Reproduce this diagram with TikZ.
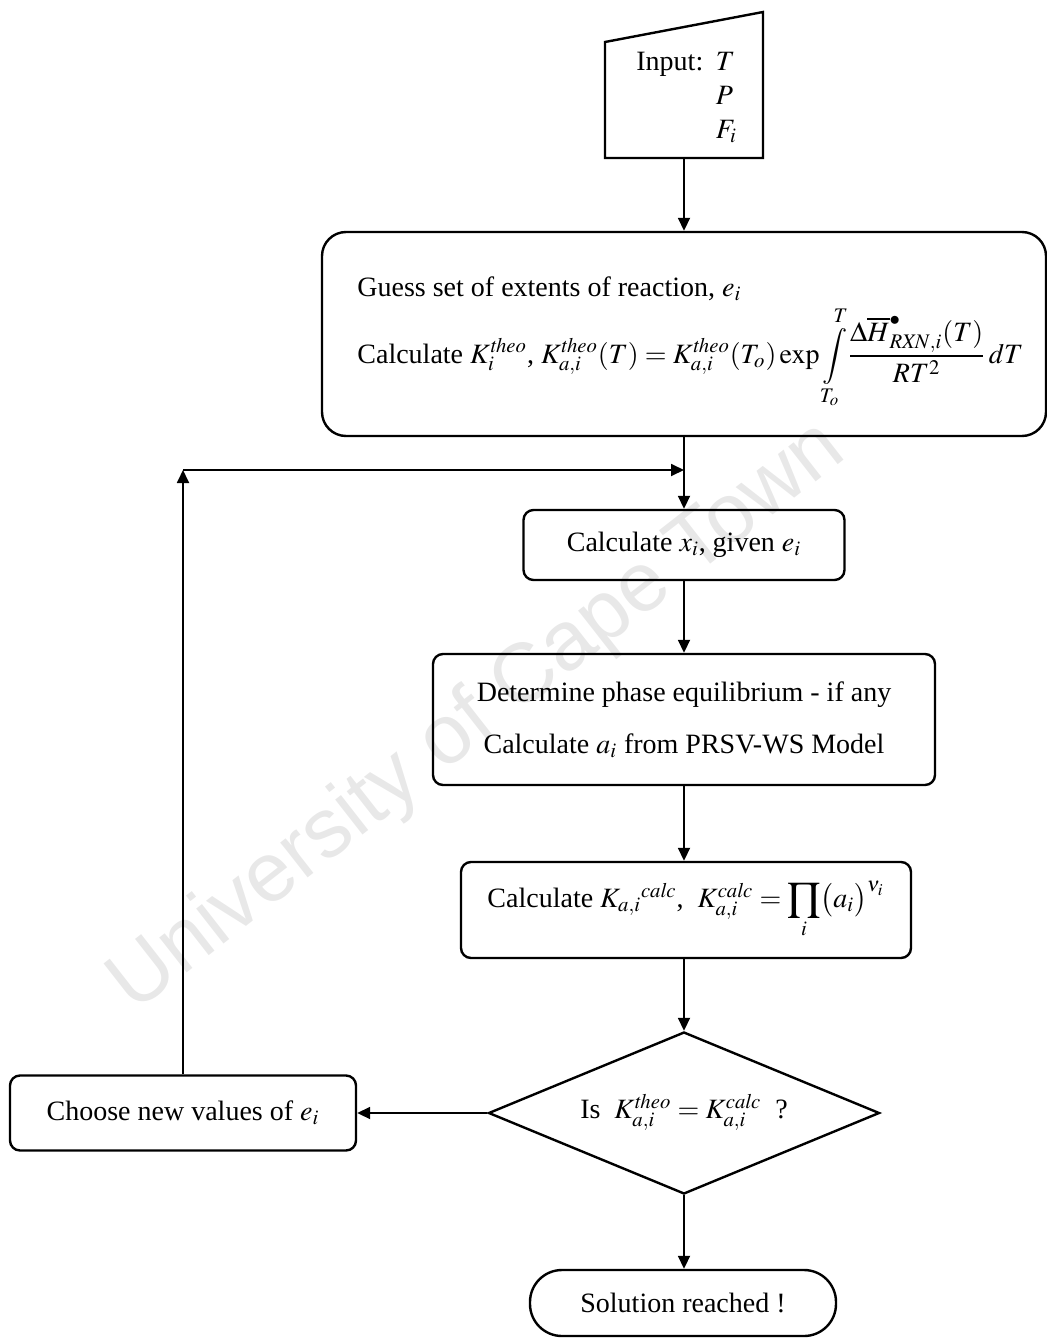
\documentclass[tikz,border=0pt]{standalone}
\usepackage{amsmath}
\usepackage{mathptmx}
\usepackage{fontspec}
\setmainfont{Liberation Serif}
\newfontfamily\wmfont{Liberation Sans}
\usetikzlibrary{arrows.meta,shapes.geometric}
\tikzset{
  txt/.style={font=\fontsize{14}{17}\selectfont, inner sep=0pt},
  procbox/.style={draw, line width=1.2pt, rounded corners=5pt, txt, align=center},
  arr/.style={line width=0.9pt, -{Triangle[length=6.5pt,width=6pt]}},
}
\begin{document}
\begin{tikzpicture}[x=0.5pt,y=-0.5pt]
\useasboundingbox (0,0) rectangle (1047,1338);
% watermark
\node[rotate=38, text=black!9, font=\wmfont\fontsize{42}{42}\selectfont, inner sep=0pt] (wm) at (478,718) {University of Cape Town};

% input (manual input shape)
\draw[line width=1.2pt] (605,42) -- (763,12) -- (763,158) -- (605,158) -- cycle;
\node[minimum width=79pt, minimum height=58pt, inner sep=0pt] (input) at (684,100) {};
\node[txt, anchor=north west] (inputtxt) at (636,46) {\renewcommand{\arraystretch}{1.0}\begin{tabular}{@{}l@{\hspace{0.45em}}l@{}}Input: & $T$\\ & $P$\\ & $F_i$\end{tabular}};

% big box
\node[draw, line width=1.2pt, rounded corners=12pt, minimum width=362pt, minimum height=102pt] (big) at (684,334) {};
\node[txt, anchor=base west] (guess) at (357,296) {Guess set of extents of reaction, $e_i$};
\node[txt, anchor=base west] (ktheo) at (357,363) {Calculate $K_i^{\mathit{theo}}$, $K_{a,i}^{\mathit{theo}}(T)=K_{a,i}^{\mathit{theo}}(T_o)\exp\displaystyle\int\limits_{T_o}^{T}\!\frac{\Delta\overline{H}^{\bullet}_{\mathit{RXN},i}(T)}{RT^2}\,dT$};

% calc x
\node[procbox, minimum width=160.5pt, minimum height=35pt] (calcx) at (684,545) {Calculate $x_i$, given $e_i$};

% determine
\node[procbox, minimum width=251pt, minimum height=65.5pt, font=\fontsize{14}{26}\selectfont] (det) at (684,719.5) {Determine phase equilibrium - if any\\Calculate $a_i$ from PRSV-WS Model};

% calc K
\node[procbox, minimum width=225pt, minimum height=48pt] (calck) at (686,910) {Calculate $K_{a,i}{}^{\mathit{calc}}$,\ \ $K_{a,i}^{\mathit{calc}}=\displaystyle\prod_i\bigl(a_i\bigr)^{\nu_i}$};

% decision
\node[draw, line width=1.2pt, diamond, aspect=2.4, minimum width=195.5pt, minimum height=81pt, txt] (dia) at (684,1113) {};
\node[txt] (diatxt) at (684,1112) {Is\ \ $K_{a,i}^{\mathit{theo}}=K_{a,i}^{\mathit{calc}}$\ \ ?};

% choose
\node[procbox, minimum width=173pt, minimum height=37.5pt] (choose) at (183,1113) {Choose new values of $e_i$};

% solution
\node[draw, line width=1.2pt, rounded corners=16pt, minimum width=153pt, minimum height=33pt, txt] (sol) at (683,1303) {Solution reached !};

% connectors
\coordinate (join) at (684,470);
\coordinate (corner) at (choose.north |- join);
\draw[arr] (input.south) -- (big.north);
\draw[arr] (big.south) -- (calcx.north);
\draw[arr] (choose.north) -- (corner);
\draw[arr] (corner) -- (join);
\draw[arr] (calcx.south) -- (det.north);
\draw[arr] (det.south) -- (calck.north -| det.south);
\draw[arr] (calck.south -| dia.north) -- (dia.north);
\draw[arr] (dia.west) -- (choose.east);
\draw[arr] (dia.south) -- (sol.north -| dia.south);
\end{tikzpicture}
\end{document}
